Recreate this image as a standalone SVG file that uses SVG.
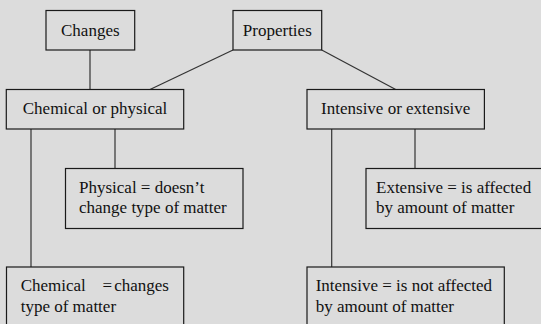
<svg xmlns="http://www.w3.org/2000/svg" width="541" height="324" viewBox="0 0 541 324">
<style>
.box{fill:#dcdcdc;stroke:#1a1a1a;stroke-width:1.2}
.ln{fill:none;stroke:#333;stroke-width:1.2}
.t{font-family:'Liberation Serif','Times New Roman',Tinos,'DejaVu Serif',serif;font-size:17px;fill:#111}
.c{text-anchor:middle}
</style>
<rect width="541" height="324" fill="#dcdcdc"/>
<g id="connectors">
<line class="ln" x1="90" y1="50" x2="90" y2="89.5"/>
<line class="ln" x1="233" y1="50" x2="150" y2="89.5"/>
<line class="ln" x1="321.7" y1="50" x2="395.7" y2="89.5"/>
<line class="ln" x1="31" y1="129" x2="31" y2="267"/>
<line class="ln" x1="115" y1="129" x2="115" y2="168.5"/>
<line class="ln" x1="331.7" y1="129" x2="331.7" y2="267"/>
<line class="ln" x1="415" y1="129" x2="415" y2="168.5"/>
</g>
<g id="changes">
<rect class="box" x="46" y="10.5" width="88.7" height="39.5"/>
<text class="t c" font-family="Liberation Serif" x="90.3" y="35.5">Changes</text>
</g>
<g id="properties">
<rect class="box" x="233" y="10.5" width="88.7" height="39.5"/>
<text class="t c" x="277.3" y="35.5">Properties</text>
</g>
<g id="chemical-or-physical">
<rect class="box" x="6.3" y="89.5" width="177.4" height="39.5"/>
<text class="t c" x="95" y="113.5">Chemical or physical</text>
</g>
<g id="intensive-or-extensive">
<rect class="box" x="307" y="89.5" width="177.4" height="39.5"/>
<text class="t c" x="395.7" y="113.5">Intensive or extensive</text>
</g>
<g id="physical">
<rect class="box" x="65.5" y="168.5" width="177.5" height="60"/>
<text class="t" x="79" y="192.7">Physical = doesn’t</text>
<text class="t" x="79" y="212.7">change type of matter</text>
</g>
<g id="chemical">
<rect class="box" x="6.5" y="267" width="177.2" height="70"/>
<text class="t" y="290.7"><tspan x="20.7">Chemical</tspan><tspan x="102.5">=</tspan><tspan x="114.2">changes</tspan></text>
<text class="t" x="20.7" y="311.7">type of matter</text>
</g>
<g id="extensive">
<rect class="box" x="366" y="168.5" width="190" height="60"/>
<text class="t" x="376" y="192.7">Extensive = is affected</text>
<text class="t" x="376" y="212.7">by amount of matter</text>
</g>
<g id="intensive">
<rect class="box" x="307" y="267" width="197.3" height="70"/>
<text class="t" x="315.7" y="290.7">Intensive = is not affected</text>
<text class="t" x="315.7" y="311.7">by amount of matter</text>
</g>
</svg>
